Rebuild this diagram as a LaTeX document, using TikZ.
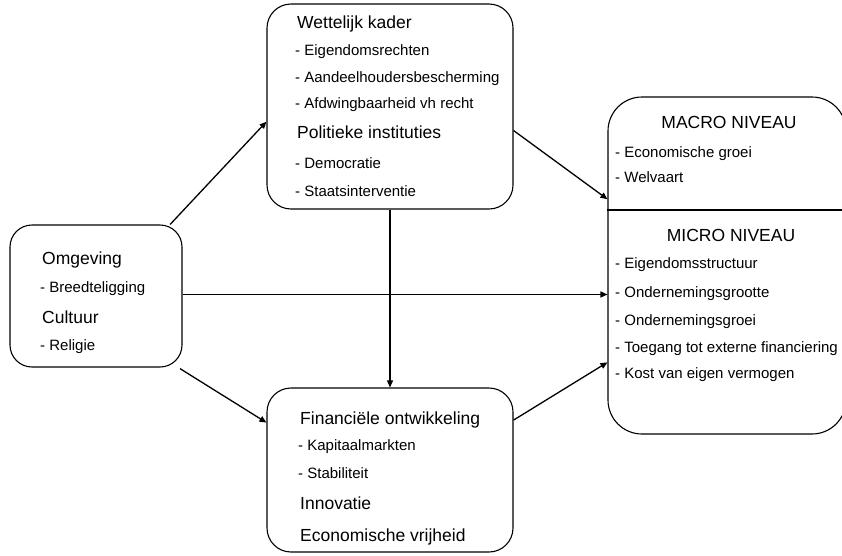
\documentclass[tikz,border=0pt]{standalone}
\usepackage{fontspec}
\setmainfont{Liberation Sans}
\usetikzlibrary{arrows.meta,calc,positioning}

\tikzset{
  blok/.style={draw, line width=1.1pt, rounded corners=24pt, inner sep=0pt},
  kop/.style={anchor=west, inner sep=0pt, text height=12.6pt, text depth=0pt,
    font=\fontsize{17.5}{20}\selectfont},
  item/.style={anchor=west, inner sep=0pt, text height=10.8pt, text depth=0pt,
    font=\fontsize{15}{18}\selectfont},
  pijl/.style={-{Triangle[length=7pt,width=6pt]}, line width=1.3pt}
}

\begin{document}
\begin{tikzpicture}[x=1pt, y=-1pt]
  \useasboundingbox (0,0) rectangle (842,555);
  % Blokken
  \node[blok, rounded corners=22pt, minimum width=172pt, minimum height=142pt] (omg) at (96,296) {};
  \node[blok, minimum width=246pt, minimum height=205pt] (wet) at (390,106.5) {};
  \node[blok, minimum width=246pt, minimum height=164pt] (fin) at (390,470) {};
  \node[blok, rounded corners=34pt, minimum width=238pt, minimum height=337pt] (rt) at (727,265.5) {};
  \coordinate (scheid) at (0,210);
  \draw[line width=1.1pt] (rt.west |- scheid) -- (rt.east |- scheid);
  % Omgeving
  \node[kop] (omg1) at (42,258) {Omgeving};
  \node[item] (omg2) at (40,287) {- Breedteligging};
  \node[kop] (omg3) at (42,317) {Cultuur};
  \node[item] (omg4) at (40,345) {- Religie};
  % Wettelijk kader
  \node[kop] (wet1) at (297,22) {Wettelijk kader};
  \node[item] (wet2) at (295,50) {- Eigendomsrechten};
  \node[item] (wet3) at (295,77) {- Aandeelhoudersbescherming};
  \node[item] (wet4) at (295,103) {- Afdwingbaarheid vh recht};
  \node[kop] (wet5) at (297,132) {Politieke instituties};
  \node[item] (wet6) at (295,163) {- Democratie};
  \node[item] (wet7) at (295,191) {- Staatsinterventie};
  % Financiele ontwikkeling
  \node[kop] (fin1) at (300,418) {Financiële ontwikkeling};
  \node[item] (fin2) at (298,445) {- Kapitaalmarkten};
  \node[item] (fin3) at (298,473) {- Stabiliteit};
  \node[kop] (fin4) at (300,503) {Innovatie};
  \node[kop] (fin5) at (300,535) {Economische vrijheid};
  % Macro / micro
  \node[kop, anchor=center] (mac) at (729,122) {MACRO NIVEAU};
  \node[item] (mac1) at (615,152) {- Economische groei};
  \node[item] (mac2) at (615,177) {- Welvaart};
  \node[kop, anchor=center] (mic) at (731,235) {MICRO NIVEAU};
  \node[item] (mic1) at (615,263) {- Eigendomsstructuur};
  \node[item] (mic2) at (615,292) {- Ondernemingsgrootte};
  \node[item] (mic3) at (615,320) {- Ondernemingsgroei};
  \node[item] (mic4) at (615,347) {- Toegang tot externe financiering};
  \node[item] (mic5) at (615,373) {- Kost van eigen vermogen};
  % Pijlen
  \draw[pijl] (omg.44) -- (wet.187);
  \draw[pijl, shorten <=2pt] (omg.-41) -- (fin.159);
  \draw[pijl] (omg.1) -- (omg.1 -| rt.west);
  \draw[pijl] (wet.south) -- (fin.north);
  \draw[pijl] (wet.-11) -- (rt.151);
  \draw[pijl] (fin.22.5) -- (rt.219);
\end{tikzpicture}
\end{document}
